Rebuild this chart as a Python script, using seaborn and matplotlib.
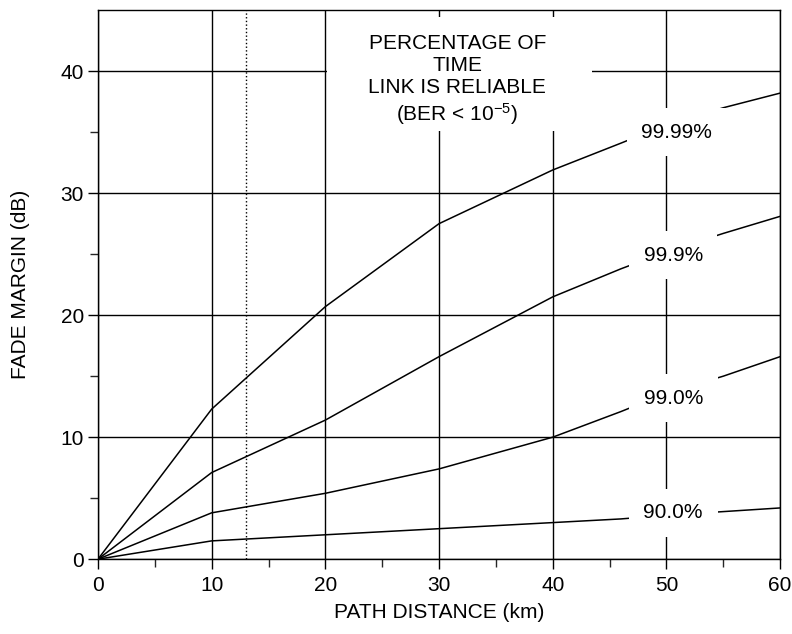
import seaborn as sns
import matplotlib.pyplot as plt
import pandas as pd
from matplotlib.patches import Rectangle
from matplotlib.ticker import MultipleLocator, FixedLocator

# Data
distance = [0, 10, 20, 30, 40, 46, 50, 55, 60]
fade_9999 = [0, 12.3, 20.7, 27.5, 31.9, 34.1, 35.6, 37.0, 38.2]
fade_999 = [0, 7.1, 11.4, 16.6, 21.5, 23.8, 25.2, 26.7, 28.1]
fade_990 = [0, 3.8, 5.4, 7.4, 10.0, 12.1, 13.6, 15.0, 16.6]
fade_900 = [0, 1.5, 2.0, 2.5, 3.0, 3.3, 3.6, 3.9, 4.2]
series_names = ["99.99%", "99.9%", "99.0%", "90.0%"]
label_x = [50.9, 50.6, 50.6, 50.6]
label_y = [35.0, 24.9, 13.2, 3.8]

df = pd.DataFrame({
    "distance": distance * 4,
    "fade": fade_9999 + fade_999 + fade_990 + fade_900,
    "series": sum([[s] * len(distance) for s in series_names], []),
})

sns.set_style("white")
plt.rcParams["font.family"] = ["Liberation Sans", "DejaVu Sans"]
plt.rcParams["mathtext.fontset"] = "custom"
plt.rcParams["mathtext.rm"] = "Liberation Sans"
plt.rcParams["mathtext.it"] = "Liberation Sans:italic"
plt.rcParams["text.color"] = "black"
plt.rcParams["axes.labelcolor"] = "black"

FS = 15

fig = plt.figure(figsize=(7.92, 6.34), dpi=100)
ax = fig.add_axes([0.1237, 0.118, 0.8613, 0.866])

sns.lineplot(data=df, x="distance", y="fade", hue="series",
             palette=["black"] * 4, linewidth=1.1, legend=False, ax=ax,
             zorder=2)

ax.set_xlim(0, 60)
ax.set_ylim(0, 45)
ax.xaxis.set_major_locator(MultipleLocator(10))
ax.set_yticks([0, 10, 20, 30, 40])
ax.xaxis.set_minor_locator(FixedLocator([5, 15, 25, 35, 45, 55]))
ax.yaxis.set_minor_locator(FixedLocator([5, 15, 25, 35]))
ax.tick_params(axis="both", which="major", direction="out", length=7,
               width=1, labelsize=FS, colors="black", pad=3,
               bottom=True, left=True)
ax.tick_params(axis="x", which="major", pad=5)
ax.tick_params(axis="both", which="minor", direction="out", length=6,
               width=1, bottom=True, left=True)
ax.grid(True, which="major", color="black", linewidth=1.0, zorder=1)
ax.set_axisbelow(True)
ax.axvline(13, color="black", linestyle=":", linewidth=1.0, zorder=1)

for sp in ax.spines.values():
    sp.set_color("black")
    sp.set_linewidth(1.0)

ax.set_xlabel("PATH DISTANCE (km)", fontsize=FS, labelpad=6)
ax.set_ylabel("FADE MARGIN (dB)", fontsize=FS, labelpad=22)

# blank area behind the title text
ax.add_patch(Rectangle((20.15, 35.1), 23.3, 9.3, facecolor="white",
                       edgecolor="none", zorder=3))
ax.text(31.6, 39.2,
        "PERCENTAGE OF\nTIME\nLINK IS RELIABLE\n(BER < 10$^{-5}$)",
        ha="center", va="center", fontsize=FS, linespacing=1.2,
        zorder=4)

for name, lx, ly in zip(series_names, label_x, label_y):
    ax.text(lx, ly, name, ha="center", va="center", fontsize=FS,
            zorder=4,
            bbox=dict(boxstyle="square,pad=0.7", facecolor="white",
                      edgecolor="none"))

fig.savefig("out.png", dpi=100)
plt.close()
